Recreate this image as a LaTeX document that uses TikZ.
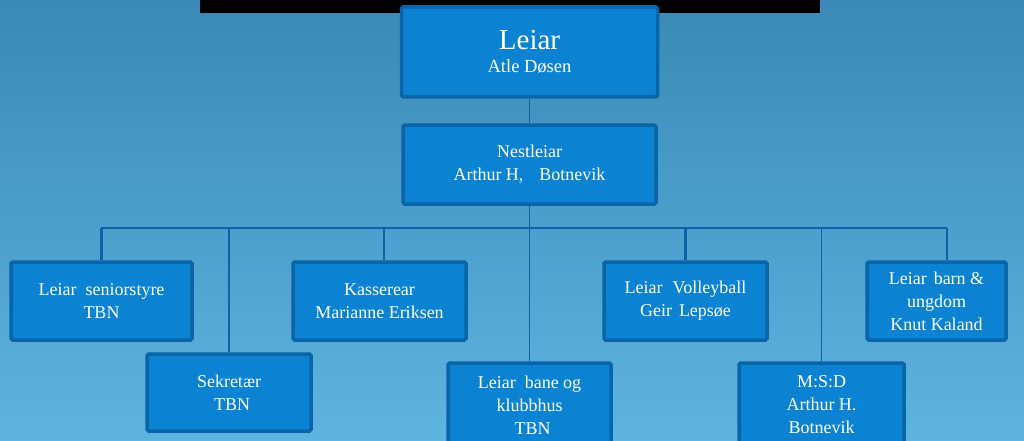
\documentclass[tikz,border=0pt]{standalone}
\usepackage{fontspec}
\setmainfont{Liberation Serif}
\usetikzlibrary{positioning}
\definecolor{bgtop}{HTML}{3A89B7}
\definecolor{bgbot}{HTML}{5EB4E0}
\definecolor{boxfill}{HTML}{0B83D2}
\definecolor{boxline}{HTML}{0A65A8}
\tikzset{
  x=1pt, y=-1pt,
  every box/.style={draw=boxline, fill=boxfill, line width=3.5pt,
    rounded corners=1.5pt, text=white, align=center, inner sep=0pt,
    font=\fontsize{18}{23}\selectfont},
  thickline/.style={draw=boxline, line width=2.6pt},
  thinline/.style={draw=boxline, line width=1.2pt},
}

\begin{document}
\begin{tikzpicture}
      \shade[top color=bgtop, bottom color=bgbot] (0,0) rectangle (1024,441);
      \useasboundingbox (0,0) rectangle (1024,441);
      \fill[black] (200,0) rectangle (820,13);

      \coordinate (bus) at (529.5,228);
      \coordinate (kasstop) at (384,260);
      \coordinate (barntop) at (947,260);
      \coordinate (senitop) at (101,260);

      \node[every box, minimum width=256pt, minimum height=90pt] (leiar) at (529.5,52)
        {{\fontsize{29}{31}\selectfont Leiar}\\[0pt]{\fontsize{18.5}{22}\selectfont Atle Døsen}};
      \node[every box, minimum width=253pt, minimum height=79pt] (nest) at (529.5,164.5)
        {Nestleiar\\Arthur H,\hspace{16pt}Botnevik};

      \node[every box, minimum width=181pt, minimum height=78pt] (seni) at (101.5,301)
        {Leiar\hspace{9pt}seniorstyre\\TBN};
      \node[every box, minimum width=164pt, minimum height=77pt] (sekr) at (229,392.5)
        {Sekretær\\\hspace{6pt}TBN};
      \node[every box, minimum width=173pt, minimum height=78pt] (kass) at (379.5,301)
        {Kasserear\\Marianne Eriksen};
      \node[every box, minimum width=163pt, minimum height=84pt] (bane) at (529.5,405)
        {Leiar\hspace{9pt}bane og\\klubbhus\\\hspace{6pt}TBN};
      \node[every box, minimum width=163pt, minimum height=78pt] (voll) at (685.5,301)
        {Leiar\hspace{10pt}Volleyball\\Geir\hspace{7pt}Lepsøe};
      \node[every box, minimum width=165pt, minimum height=84pt] (msd) at (821.5,405)
        {M:S:D\\Arthur H.\\Botnevik};
      \node[every box, minimum width=139pt, minimum height=78pt] (barn) at (936.5,301)
        {Leiar\hspace{7pt}barn \&\\ungdom\\Knut Kaland};

      \draw[thinline] (leiar.south) -- (nest.north);
      \draw[thinline] (nest.south) -- (bus);
      \draw[thickline] (senitop |- bus) -- (barntop |- bus);
      \draw[thickline] (seni.north) -- (seni.north |- bus);
      \draw[thickline] (sekr.north) -- (sekr.north |- bus);
      \draw[thinline] (kasstop) -- (kasstop |- bus);
      \draw[thinline] (bane.north) -- (bane.north |- bus);
      \draw[thickline] (voll.north) -- (voll.north |- bus);
      \draw[thinline] (msd.north) -- (msd.north |- bus);
      \draw[thickline] (barntop) -- (barntop |- bus);
    \end{tikzpicture}
\end{document}
